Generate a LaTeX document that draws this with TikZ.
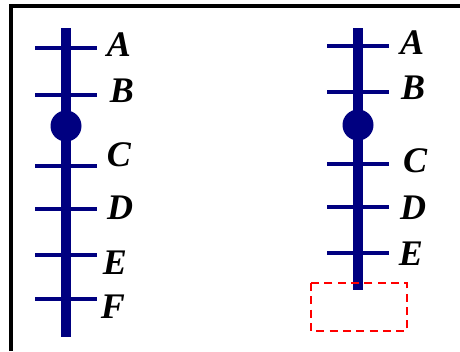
\documentclass[tikz,border=0pt]{standalone}
\usepackage{fontspec}
\setmainfont{Liberation Serif}
\definecolor{rodblue}{HTML}{000080}
\begin{document}
\begin{tikzpicture}[x=0.75pt,y=-0.75pt,
  rod/.style={draw=rodblue,line width=6.8pt},
  tick/.style={draw=rodblue,line width=2.4pt},
  ball/.style={fill=rodblue},
  lbl/.style={font=\fontsize{27}{27}\selectfont\bfseries\itshape,inner sep=0pt,anchor=center},
  frame/.style={draw=black,line width=2.6pt},
  hole/.style={draw=red,line width=1.6pt,dash pattern=on 6pt off 4pt}]
\useasboundingbox (0,0) rectangle (460,351);
\draw[frame] (11,351) -- (11,6) -- (460,6);
% left rod
\draw[rod] (66,28) -- (66,337);
\foreach \y in {48,95,166,209,255,299} \draw[tick] (35,\y) -- (97,\y);
\fill[ball] (66,126) circle (15.5);
\node[lbl] (la) at (119,45) {A};
\node[lbl] (lb) at (122,91) {B};
\node[lbl] (lc) at (119,155) {C};
\node[lbl] (ld) at (120,208) {D};
\node[lbl] (le) at (115,263) {E};
\node[lbl] (lf) at (113,307) {F};
% right rod
\draw[rod] (358,28) -- (358,290);
\foreach \y in {46,92,164,207,253} \draw[tick] (327,\y) -- (389,\y);
\fill[ball] (358,125) circle (15.5);
\node[lbl] (ra) at (412,43) {A};
\node[lbl] (rb) at (413,88) {B};
\node[lbl] (rc) at (415,161) {C};
\node[lbl] (rd) at (413,208) {D};
\node[lbl] (re) at (411,254) {E};
\draw[hole] (311,283) rectangle (407,331);
\end{tikzpicture}
\end{document}
